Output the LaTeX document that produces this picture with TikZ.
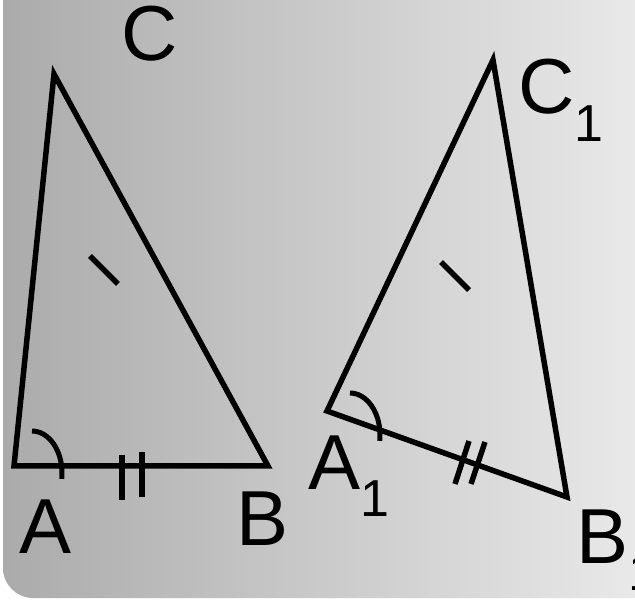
\documentclass[tikz,border=0pt]{standalone}
\usepackage{fontspec}
\setmainfont{Liberation Sans}
\usepackage{tikz}
\usetikzlibrary{positioning}

\begin{document}
\begin{tikzpicture}[
      x=1pt, y=-1pt,
      side/.style={line width=5.5pt, line join=miter, black},
      tickline/.style={line width=5.5pt, black},
      anglearc/.style={line width=5pt, black},
      lbl/.style={inner sep=0pt, font=\fontsize{78}{80}\selectfont},
      sub/.style={font=\fontsize{52}{54}\selectfont}
    ]
      \useasboundingbox (0,0) rectangle (635,601);

      % Background panel
      \shade[left color=black!33, right color=black!7, rounded corners=30pt]
        (3,-40) rectangle (680,598);

      % First triangle
      \coordinate (A) at (14,466);
      \coordinate (B) at (268,466);
      \coordinate (C) at (54,74);
      \draw[side] (A) -- (B) -- (C) -- cycle;

      % Second triangle
      \coordinate (A1) at (327,411);
      \coordinate (B1) at (567,497);
      \coordinate (C1) at (493,60);
      \draw[side] (A1) -- (B1) -- (C1) -- cycle;

      % Marks
      \draw[tickline] (90,256) -- (118,284);
      \draw[tickline] (441,262) -- (469,290);
      \draw[tickline] (122,455) -- (122,500);
      \draw[tickline] (142,452) -- (142,497);
      \draw[tickline] (469,441) -- (455,484);
      \draw[tickline] (485,442) -- (471,484);
      \draw[anglearc] (32,431) arc[start angle=-90, end angle=8, x radius=30, y radius=42];
      \draw[anglearc] (350,393) arc[start angle=-90, end angle=8, x radius=30, y radius=42];

      % Labels
      \node[lbl, anchor=base] (labA) at (46,554) {A};
      \node[lbl, anchor=base] (labB) at (263,545) {B};
      \node[lbl, anchor=base] (labC) at (150,61) {C};
      \node[lbl, anchor=base west] (labC1) at (518,114) {C\raisebox{-28pt}{\fontsize{52}{54}\selectfont 1}};
      \node[lbl, anchor=base west] (labA1) at (308,490) {A\raisebox{-27pt}{\fontsize{52}{54}\selectfont 1}};
      \node[lbl, anchor=base west] (labB1) at (576,563) {B\raisebox{-27pt}{\fontsize{52}{54}\selectfont 1}};

    \end{tikzpicture}
\end{document}
